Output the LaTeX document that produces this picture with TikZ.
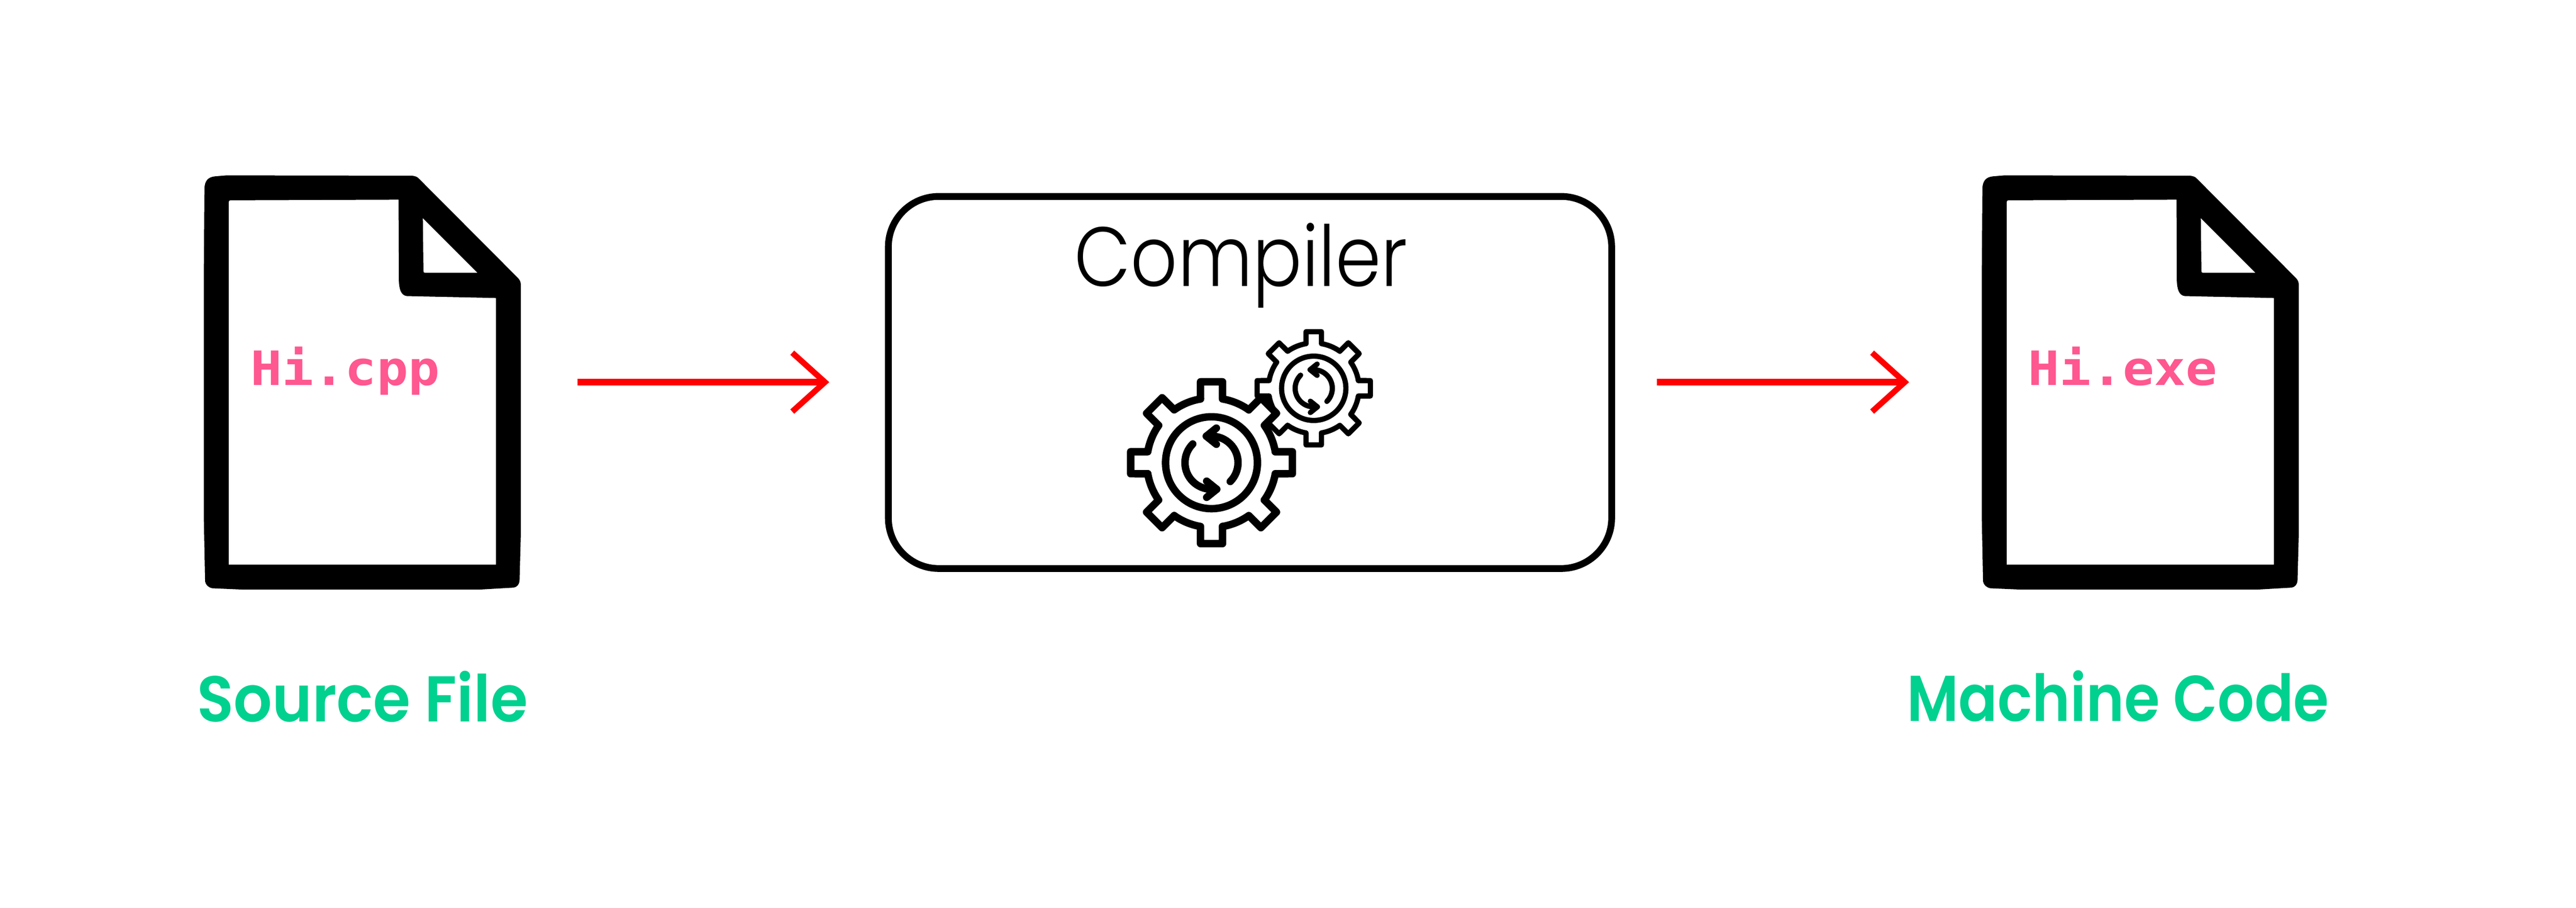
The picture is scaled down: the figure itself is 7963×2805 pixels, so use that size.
\documentclass[tikz,border=0pt]{standalone}
\usepackage{fontspec}
\setmainfont{Poppins}
\newfontfamily\lblfont[FakeStretch=0.89]{Poppins SemiBold}
\newfontfamily\lblwidefont[FakeStretch=0.935]{Poppins SemiBold}
\newfontfamily\titlefont[FakeStretch=0.87]{Poppins Light}
\newfontfamily\codefont[FakeStretch=1.11]{DejaVu Sans Mono Bold}
\definecolor{labelgreen}{HTML}{00D18F}
\definecolor{codepink}{HTML}{FF5790}
\tikzset{
  flowarrow/.style={draw=red,line width=2.1pt,line cap=butt,line join=miter},
  flowhead/.style={draw=red,line width=1.8pt,line cap=butt,line join=miter},
  compbox/.style={draw=black,line width=2.1pt,rounded corners=15.6pt,minimum width=223.6pt,minimum height=115pt,inner sep=0pt,outer sep=0pt},
  titletext/.style={font=\titlefont\fontsize{26pt}{26pt}\selectfont,text=black,anchor=base,inner sep=0pt},
  labeltext/.style={font=\lblfont\fontsize{20pt}{20pt}\selectfont,text=labelgreen,anchor=base,inner sep=0pt},
  labelwide/.style={font=\lblwidefont\fontsize{20pt}{20pt}\selectfont,text=labelgreen,anchor=base,inner sep=0pt},
  codetext/.style={font=\codefont\fontsize{14.6pt}{14.6pt}\selectfont,text=codepink,anchor=base,inner sep=0pt},
  filedoc/.pic={
    \fill[black,even odd rule]
      (632,582) .. controls (633,560) and (642,547) .. (665,545)
      -- (700,542) -- (1273,543)
      .. controls (1283,544) and (1290,546) .. (1296,553)
      -- (1602,860)
      .. controls (1607,866) and (1610,872) .. (1610,880)
      -- (1610,1650) -- (1606,1795)
      .. controls (1605,1806) and (1598,1815) .. (1587,1816)
      -- (1483,1822) -- (749,1822) -- (657,1818)
      .. controls (645,1816) and (636,1808) .. (634,1797)
      -- (630,1600) -- (630,850) -- cycle
      (707,625) .. controls (707,621) and (709,619) .. (712,619)
      -- (1232,617) -- (1233,869)
      .. controls (1234,890) and (1238,913) .. (1258,915)
      -- (1533,921) -- (1533,1745) -- (707,1745) -- cycle
      (1307,674) -- (1476,843) -- (1313,843)
      .. controls (1310,843) and (1309,841) .. (1309,837) -- cycle;
  }
}
\newcommand{\drawgear}[3]{%
  \begin{scope}[shift={(#1,#2)},scale=#3,line width=2.3pt*#3,line cap=round,line join=round]
    \fill[white] (0,0) circle[radius=200];
    \foreach \a in {0,45,...,315}{
      \fill[white,rotate=\a] (-34,-198) -- (-34,-250) -- (34,-250) -- (34,-198) -- cycle;
      \draw[black,rotate=\a] (-99.8:200) -- (-34,-250) -- (34,-250) -- (-80.2:200)
        arc[start angle=-80.2,end angle=-54.8,radius=200];
    }
    \draw[black] (0,0) circle[radius=142];
    \foreach \a in {0,180}{
      \draw[black,rotate=\a] (225:82) arc[start angle=225,end angle=90,radius=82] -- (16,82);
      \draw[black,rotate=\a] (-15,57) -- (16,82) -- (-15,107);
    }
  \end{scope}%
}
\begin{document}
\begin{tikzpicture}[x=0.1pt,y=-0.1pt]
  \useasboundingbox (0,0) rectangle (7963,2805);
  \fill[white] (0,0) rectangle (7963,2805);

  \pic {filedoc};
  \pic at (5496,0) {filedoc};

  \node[codetext] (srccode) at (1067,1191) {Hi.cpp};
  \node[codetext] (execode) at (6562,1191) {Hi.exe};

  \node[compbox] (compiler) at (3864,1182) {};
  \node[titletext] (comptitle) at (3836,885) {Compiler};

  \drawgear{4061}{1200}{0.7}
  \drawgear{3745}{1430}{1}

  \coordinate (a1s) at (1785,1181);
  \coordinate (a1e) at (2550,1181);
  \coordinate (a1t) at (2449,1090);
  \coordinate (a1b) at (2449,1272);
  \coordinate (a2s) at (5122,1181);
  \coordinate (a2e) at (5888,1181);
  \coordinate (a2t) at (5787,1090);
  \coordinate (a2b) at (5787,1272);
  \draw[flowarrow] (a1s) -- (a1e);
  \draw[flowhead] (a1t) -- (a1e) -- (a1b);
  \draw[flowarrow] (a2s) -- (a2e);
  \draw[flowhead] (a2t) -- (a2e) -- (a2b);

  \node[labelwide] (srclabel) at (1120,2230) {Source File};
  \node[labeltext] (maclabel) at (6547,2228) {Machine Code};
\end{tikzpicture}
\end{document}
